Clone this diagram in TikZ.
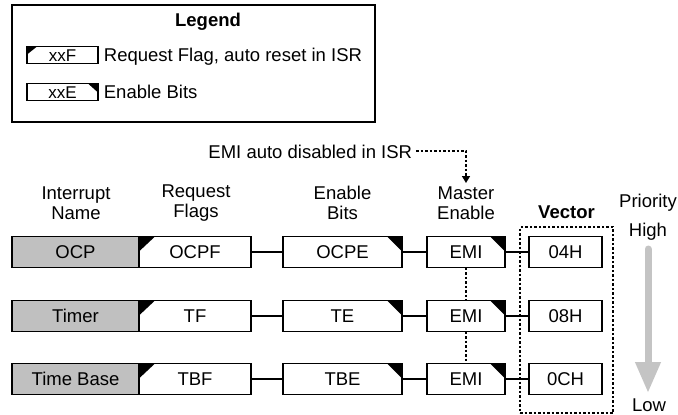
\documentclass[tikz,border=0pt]{standalone}
\usepackage{fontspec}
\setmainfont{Liberation Sans}
\usetikzlibrary{arrows.meta}
\definecolor{boxgray}{HTML}{C0C0C0}
\definecolor{arrowgray}{HTML}{C4C4C4}
\begin{document}
\begin{tikzpicture}[x=1pt,y=-1pt,
  font=\fontsize{18.5}{19.5}\selectfont,
  line width=1.8pt,
  box/.style={draw, rectangle, inner sep=0pt, outer sep=0pt, minimum height=31pt, text height=13.2pt, text depth=0pt},
  namebox/.style={box, fill=boxgray, minimum width=127pt},
  flagbox/.style={box, fill=white},
  enbox/.style={box, fill=white},
  vecbox/.style={box, minimum width=73pt},
  lbox/.style={box, minimum width=71pt, minimum height=17pt, font=\fontsize{17}{18}\selectfont, text height=12pt},
  dotline/.style={line width=1.6pt, dash pattern=on 2.5pt off 2pt},
  header/.style={align=center, inner sep=0pt},
  plain/.style={inner sep=0pt, text depth=0pt}
]
\useasboundingbox (0,0) rectangle (678,415);

% Legend
\node[draw, rectangle, minimum width=363pt, minimum height=117pt, inner sep=0pt] (legendbox) at (193.5,63.5) {};
\node[plain, font=\fontsize{18.5}{19.5}\selectfont\bfseries] (legendtitle) at (208,20) {Legend};
\node[lbox] (lf) at (62.5,55) {xxF};
\node[lbox] (le) at (62.5,92) {xxE};
\fill (lf.north west) -- ++(10,0) -- ++(-10,8) -- cycle;
\fill (le.north east) -- ++(-10,0) -- ++(10,9) -- cycle;
\node[plain, anchor=west] (lftext) at (103,55) {Request Flag, auto reset in ISR};
\node[plain, anchor=west] (letext) at (103,92) {Enable Bits};

% ISR note
\node[plain, anchor=east] (isr) at (413,152) {EMI auto disabled in ISR};
\coordinate (isrstart) at (416,151);
\coordinate (isrtip) at (466,183);
\draw[dotline, -{Triangle[length=7pt,width=8pt]}] (isrstart) -| (isrtip);

% headers
\node[header] (h1) at (76,203) {Interrupt\\Name};
\node[header] (h2) at (196,203) {Request\\Flags};
\node[header] (h3) at (342.5,203) {Enable\\Bits};
\node[header] (h4) at (466,203) {Master\\Enable};
\node[plain, font=\fontsize{18.5}{19.5}\selectfont\bfseries] (hv) at (566.5,212) {Vector};
\node[plain] (prio) at (648,201) {Priority};
\node[plain] (high) at (648,230) {High};
\node[plain] (low) at (649,405) {Low};

% vector group
\node[draw, dotline, rectangle, minimum width=93pt, minimum height=186pt, inner sep=0pt] (vgroup) at (566.5,320) {};

% rows
\foreach \r/\y/\nm/\fl/\en/\vv in {1/252/OCP/OCPF/OCPE/04H, 2/316/Timer/TF/TE/08H, 3/379/Time Base/TBF/TBE/0CH}{
  \node[namebox] (n\r) at (75.5,\y) {\nm};
  \node[flagbox, minimum width=112pt] (f\r) at (195,\y) {\fl};
  \node[enbox, minimum width=119pt] (e\r) at (342.5,\y) {\en};
  \node[enbox, minimum width=78pt] (m\r) at (466,\y) {EMI};
  \node[vecbox] (v\r) at (565.5,\y) {\vv};
  \fill (f\r.north west) -- ++(16,0) -- ++(-16,15) -- cycle;
  \fill (e\r.north east) -- ++(-15,0) -- ++(15,15) -- cycle;
  \fill (m\r.north east) -- ++(-15,0) -- ++(15,15) -- cycle;
  \draw (f\r) -- (e\r);
  \draw (e\r) -- (m\r);
  \draw (m\r) -- (v\r);
}
\draw[dotline] (m1) -- (m2);
\draw[dotline] (m2) -- (m3);

% priority arrow
\coordinate (ptop) at (648,249);
\coordinate (pbot) at (648,393);
\draw[arrowgray, line width=7pt, line cap=round, -{Triangle[length=31pt,width=24pt]}] (ptop) -- (pbot);
\end{tikzpicture}
\end{document}
